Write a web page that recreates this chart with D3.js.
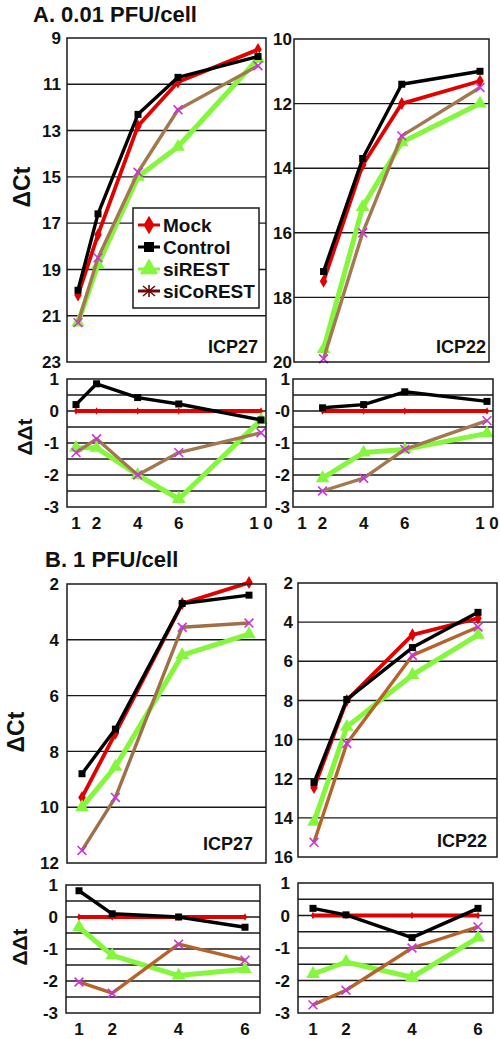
<!DOCTYPE html>
<html><head><meta charset="utf-8">
<script src="https://cdn.jsdelivr.net/npm/d3@7"></script>
<style>
body{margin:0;background:#fff;}
svg text{font-family:"Liberation Sans",Arial,sans-serif;font-weight:bold;fill:#111;}
</style></head>
<body>
<svg id="chart" width="500" height="1039"></svg>
<script>
// ---------- DATA ----------
const seriesNames = ["Mock", "Control", "siREST", "siCoREST"];

// A. 0.01 PFU/cell
const hoursA27 = [1, 2, 4, 6, 10];
const hoursA22 = [2, 4, 6, 10];
const xLabelsA = ["1", "2", "4", "6", "1 0"];
const ctA27_Mock     = [20.1, 17.5, 12.8, 10.9, 9.5];
const ctA27_Control  = [19.9, 16.6, 12.3, 10.7, 9.8];
const ctA27_siREST   = [21.3, 18.8, 15.0, 13.7, 9.9];
const ctA27_siCoREST = [21.3, 18.5, 14.8, 12.1, 10.2];
const ctA22_Mock     = [17.5, 13.9, 12.0, 11.3];
const ctA22_Control  = [17.2, 13.7, 11.4, 11.0];
const ctA22_siREST   = [19.6, 15.2, 13.2, 12.0];
const ctA22_siCoREST = [19.9, 16.0, 13.0, 11.5];
const ddA27_Mock     = [0, 0, 0, 0, 0];
const ddA27_Control  = [0.2, 0.85, 0.42, 0.22, -0.28];
const ddA27_siREST   = [-1.15, -1.15, -2.0, -2.75, -0.28];
const ddA27_siCoREST = [-1.3, -0.87, -2.0, -1.3, -0.68];
const ddA22_Mock     = [0, 0, 0, 0];
const ddA22_Control  = [0.1, 0.2, 0.6, 0.3];
const ddA22_siREST   = [-2.1, -1.3, -1.2, -0.7];
const ddA22_siCoREST = [-2.5, -2.1, -1.2, -0.3];

// B. 1 PFU/cell
const hoursB = [1, 2, 4, 6];
const xLabelsB = ["1", "2", "4", "6"];
const ctB27_Mock     = [9.65, 7.35, 2.7, 1.95];
const ctB27_Control  = [8.8, 7.2, 2.7, 2.4];
const ctB27_siREST   = [10.0, 8.55, 4.55, 3.8];
const ctB27_siCoREST = [11.55, 9.65, 3.55, 3.4];
const ctB22_Mock     = [12.45, 8.0, 4.65, 3.8];
const ctB22_Control  = [12.2, 7.95, 5.3, 3.5];
const ctB22_siREST   = [14.2, 9.35, 6.7, 4.65];
const ctB22_siCoREST = [15.25, 10.2, 5.7, 4.25];
const ddB27_Mock     = [0, 0, 0, 0];
const ddB27_Control  = [0.82, 0.1, 0.0, -0.32];
const ddB27_siREST   = [-0.32, -1.2, -1.83, -1.63];
const ddB27_siCoREST = [-2.03, -2.38, -0.85, -1.35];
const ddB22_Mock     = [0, 0, 0, 0];
const ddB22_Control  = [0.22, 0.02, -0.68, 0.22];
const ddB22_siREST   = [-1.8, -1.43, -1.9, -0.68];
const ddB22_siCoREST = [-2.75, -2.3, -1.0, -0.35];

// tick labels
const ctTicksA27 = [9, 11, 13, 15, 17, 19, 21, 23];
const ctTicksA22 = [10, 12, 14, 16, 18, 20];
const ctTicksB27 = [2, 4, 6, 8, 10, 12];
const ctTicksB22 = [2, 4, 6, 8, 10, 12, 14, 16];
const ddTicks = [1, 0, -1, -2, -3];
const ddTickLabelsStd = ["1", "0", "-1", "-2", "-3"];
const ddTickLabelsA22 = ["1", "-0", "-1", "-2", "-3"];
const ddGrid = [0.5, 0, -0.5, -1, -1.5, -2, -2.5];

// ---------- STYLE ----------
const style = {
  Mock:     {color: "#e00000", width: 3.8, marker: "diamond", mcolor: "#e00000", msize: 7},
  Control:  {color: "#000000", width: 3.4, marker: "square",  mcolor: "#000000", msize: 7},
  siREST:   {color: "#84f63c", width: 5,   marker: "triangle",mcolor: "#84f63c", msize: 9},
  siCoREST: {color: "#a37850", width: 3.4, marker: "x",       mcolor: "#cc33dd", msize: 8}
};
const brownA = "#a37850", brownB27 = "#a06f45", brownB = "#b5632c";

const svg = d3.select("#chart");

function drawMarker(g, type, x, y, color, size) {
  if (type === "x") {
    const s = size * 0.55;
    g.append("path").attr("d", `M${x-s},${y-s}L${x+s},${y+s}M${x-s},${y+s}L${x+s},${y-s}`)
      .attr("stroke", color).attr("stroke-width", 1.6).attr("fill", "none");
  } else {
    const sym = type === "diamond" ? d3.symbolDiamond : type === "square" ? d3.symbolSquare : d3.symbolTriangle;
    g.append("path").attr("d", d3.symbol().type(sym).size(size * size)())
      .attr("transform", `translate(${x},${y})`).attr("fill", color);
  }
}

function panel(cfg) {
  const g = svg.append("g");
  const x = d3.scaleLinear().domain(cfg.xDomain).range(cfg.xRange);
  const y = d3.scaleLinear().domain(cfg.yDomain).range([cfg.box.t, cfg.box.b]);
  g.append("rect").attr("x", cfg.box.l).attr("y", cfg.box.t)
    .attr("width", cfg.box.r - cfg.box.l).attr("height", cfg.box.b - cfg.box.t)
    .attr("fill", "#fff");
  g.selectAll("line.grid").data(cfg.grid).join("line")
    .attr("x1", cfg.box.l).attr("x2", cfg.box.r)
    .attr("y1", d => y(d)).attr("y2", d => y(d))
    .attr("stroke", "#1a1a1a").attr("stroke-width", 1.4);
  g.selectAll("text.yt").data(cfg.yTicks).join("text")
    .attr("x", cfg.box.l - cfg.labelGap).attr("y", d => y(d))
    .attr("dy", "0.36em").attr("text-anchor", "end")
    .attr("font-size", 17)
    .text((d, i) => cfg.yLabels ? cfg.yLabels[i] : d);
  if (cfg.xTicks) {
    g.selectAll("text.xt").data(cfg.xTicks).join("text")
      .attr("x", d => x(d)).attr("y", cfg.box.b + 22)
      .attr("text-anchor", "middle").attr("font-size", 17)
      .text((d, i) => cfg.xLabels[i]);
  }
  const line = d3.line().x(d => x(d[0])).y(d => y(d[1]));
  const order = ["Mock", "siREST", "siCoREST", "Control"];
  order.forEach(name => {
    const vals = cfg.series[name];
    const pts = cfg.xs.map((h, i) => [h, vals[i]]);
    const st = style[name];
    const col = name === "siCoREST" ? cfg.brown : st.color;
    g.append("path").datum(pts).attr("d", line)
      .attr("fill", "none").attr("stroke", col)
      .attr("stroke-width", st.width).attr("stroke-linejoin", "round");
    pts.forEach(p => {
      const msize = name === "Mock" && cfg.small ? 4 : st.msize;
      drawMarker(g, st.marker, x(p[0]), y(p[1]), st.mcolor, msize);
    });
  });
  g.append("rect").attr("x", cfg.box.l).attr("y", cfg.box.t)
    .attr("width", cfg.box.r - cfg.box.l).attr("height", cfg.box.b - cfg.box.t)
    .attr("fill", "none").attr("stroke", "#1a1a1a").attr("stroke-width", 1.5);
  if (cfg.gene) {
    g.append("text").attr("x", cfg.gene.x).attr("y", cfg.gene.y)
      .attr("text-anchor", "end").attr("font-size", 18).text(cfg.gene.text);
  }
  return g;
}

function ser(m, c, r, co) { return {Mock: m, Control: c, siREST: r, siCoREST: co}; }

svg.append("text").attr("x", 33).attr("y", 22).attr("font-size", 22).text("A. 0.01 PFU/cell");
svg.append("text").attr("x", 45).attr("y", 567).attr("font-size", 22).text("B. 1 PFU/cell");

function yTitle(txt, cx, cy, size) {
  svg.append("text").attr("transform", `translate(${cx},${cy}) rotate(-90)`)
    .attr("text-anchor", "middle").attr("dy", "0.35em").attr("font-size", size).text(txt);
}
yTitle("ΔCt", 22, 187, 23);
yTitle("ΔΔt", 25, 437, 21);
yTitle("ΔCt", 16, 732, 23);
yTitle("ΔΔt", 20, 947, 21);

const pA27 = panel({box: {l: 67, r: 266, t: 38, b: 362}, xDomain: [1, 10], xRange: [78, 258],
  yDomain: [9, 23], yTicks: ctTicksA27, grid: ctTicksA27.slice(1, -1), labelGap: 6, brown: brownA,
  xs: hoursA27, series: ser(ctA27_Mock, ctA27_Control, ctA27_siREST, ctA27_siCoREST),
  gene: {text: "ICP27", x: 258, y: 353}});
panel({box: {l: 294, r: 489, t: 39, b: 362}, xDomain: [1, 10], xRange: [304, 480],
  yDomain: [10, 20], yTicks: ctTicksA22, grid: ctTicksA22.slice(1, -1), labelGap: 2, brown: brownA,
  xs: hoursA22, series: ser(ctA22_Mock, ctA22_Control, ctA22_siREST, ctA22_siCoREST),
  gene: {text: "ICP22", x: 486, y: 353}});
panel({box: {l: 67, r: 266, t: 379, b: 507}, xDomain: [1, 10], xRange: [76, 261],
  yDomain: [1, -3], yTicks: ddTicks, yLabels: ddTickLabelsStd, grid: ddGrid, labelGap: 8, brown: brownA,
  xTicks: hoursA27, xLabels: xLabelsA, small: true,
  xs: hoursA27, series: ser(ddA27_Mock, ddA27_Control, ddA27_siREST, ddA27_siCoREST)});
panel({box: {l: 293, r: 493, t: 379, b: 507}, xDomain: [1, 10], xRange: [302, 487],
  yDomain: [1, -3], yTicks: ddTicks, yLabels: ddTickLabelsA22, grid: ddGrid, labelGap: 3, brown: brownA,
  xTicks: [1].concat(hoursA22), xLabels: xLabelsA, small: true,
  xs: hoursA22, series: ser(ddA22_Mock, ddA22_Control, ddA22_siREST, ddA22_siCoREST)});
panel({box: {l: 67, r: 266, t: 584, b: 863}, xDomain: [1, 6], xRange: [82, 249],
  yDomain: [2, 12], yTicks: ctTicksB27, grid: ctTicksB27.slice(1, -1), labelGap: 8, brown: brownB27,
  xs: hoursB, series: ser(ctB27_Mock, ctB27_Control, ctB27_siREST, ctB27_siCoREST),
  gene: {text: "ICP27", x: 253, y: 850}});
panel({box: {l: 298, r: 497, t: 583, b: 857}, xDomain: [1, 6], xRange: [314, 478],
  yDomain: [2, 16], yTicks: ctTicksB22, grid: ctTicksB22.slice(1, -1), labelGap: 5, brown: brownB,
  xs: hoursB, series: ser(ctB22_Mock, ctB22_Control, ctB22_siREST, ctB22_siCoREST),
  gene: {text: "ICP22", x: 487, y: 847}});
panel({box: {l: 66, r: 260, t: 885, b: 1013}, xDomain: [1, 6], xRange: [79, 245],
  yDomain: [1, -3], yTicks: ddTicks, yLabels: ddTickLabelsStd, grid: ddGrid, labelGap: 8, brown: brownB,
  xTicks: hoursB, xLabels: xLabelsB, small: true,
  xs: hoursB, series: ser(ddB27_Mock, ddB27_Control, ddB27_siREST, ddB27_siCoREST)});
panel({box: {l: 298, r: 493, t: 883, b: 1013}, xDomain: [1, 6], xRange: [313, 478],
  yDomain: [1, -3], yTicks: ddTicks, yLabels: ddTickLabelsStd, grid: ddGrid, labelGap: 8, brown: brownB,
  xTicks: hoursB, xLabels: xLabelsB, small: true,
  xs: hoursB, series: ser(ddB22_Mock, ddB22_Control, ddB22_siREST, ddB22_siCoREST)});

// Legend
const leg = pA27.append("g");
leg.append("rect").attr("x", 133).attr("y", 208).attr("width", 126).attr("height", 100)
  .attr("fill", "#fff").attr("stroke", "#1a1a1a").attr("stroke-width", 1.5);
const legendColor = {Mock: "#e00000", Control: "#000000", siREST: "#84f63c", siCoREST: "#6b0a0a"};
seriesNames.forEach((name, i) => {
  const cy = 225 + i * 22;
  const c = legendColor[name];
  leg.append("line").attr("x1", 138).attr("x2", 160).attr("y1", cy).attr("y2", cy)
    .attr("stroke", c).attr("stroke-width", 3);
  if (name === "siCoREST") {
    leg.append("path").attr("d", `M143,${cy-5}L155,${cy+5}M143,${cy+5}L155,${cy-5}M149,${cy-6}L149,${cy+6}`)
      .attr("stroke", c).attr("stroke-width", 1.6);
  } else {
    drawMarker(leg, style[name].marker, 149, cy, c, name === "siREST" ? 12 : 10);
  }
  leg.append("text").attr("x", 163).attr("y", cy).attr("dy", "0.36em")
    .attr("font-size", 19).text(name);
});
</script>
</body></html>
